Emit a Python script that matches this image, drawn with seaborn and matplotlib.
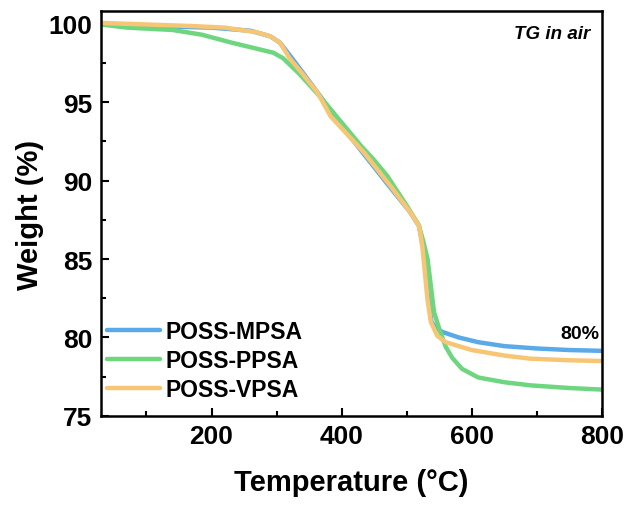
import pandas as pd
import matplotlib
matplotlib.use("Agg")
import matplotlib.pyplot as plt
import seaborn as sns
from matplotlib.ticker import MultipleLocator

# --- data ---
temp_mpsa = [30, 100, 200, 260, 290, 305, 320, 340, 365, 390, 430, 470, 505, 519,
             526, 532, 538, 545, 555, 580, 610, 650, 700, 750, 800]
wt_mpsa = [100.0, 99.85, 99.75, 99.55, 99.2, 98.8, 98.0, 96.9, 95.5, 94.0, 91.9, 89.8,
           88.0, 87.1, 85.5, 82.8, 81.0, 80.6, 80.35, 80.0, 79.7, 79.45, 79.3, 79.2, 79.15]

temp_ppsa = [30, 70, 140, 185, 230, 275, 295, 310, 335, 368, 400, 430, 450, 470, 500,
             518, 525, 532, 542, 552, 560, 570, 585, 610, 650, 690, 750, 800]
wt_ppsa = [99.95, 99.75, 99.6, 99.3, 98.8, 98.35, 98.15, 97.8, 96.8, 95.3, 93.7, 92.2,
           91.3, 90.3, 88.4, 87.2, 86.2, 85.0, 81.6, 80.3, 79.4, 78.7, 78.0, 77.45,
           77.15, 76.95, 76.78, 76.68]

temp_vpsa = [30, 100, 170, 220, 270, 290, 305, 320, 340, 363, 383, 434, 475, 506, 519,
             524, 532, 537, 547, 560, 600, 650, 690, 750, 800]
wt_vpsa = [100.05, 99.95, 99.85, 99.75, 99.45, 99.2, 98.8, 97.8, 96.8, 95.6, 94.1, 91.8,
           89.65, 87.95, 87.1, 85.8, 82.4, 81.0, 80.1, 79.7, 79.2, 78.85, 78.65, 78.55, 78.5]

samples = ["POSS-MPSA", "POSS-PPSA", "POSS-VPSA"]
colors = ["#5aaae8", "#6fd680", "#f7c674"]

df = pd.concat([
    pd.DataFrame({"T": temp_mpsa, "W": wt_mpsa, "Sample": samples[0]}),
    pd.DataFrame({"T": temp_ppsa, "W": wt_ppsa, "Sample": samples[1]}),
    pd.DataFrame({"T": temp_vpsa, "W": wt_vpsa, "Sample": samples[2]}),
], ignore_index=True)

sns.set_style("ticks")
plt.rcParams["font.family"] = ["Liberation Sans", "DejaVu Sans"]
plt.rcParams["font.weight"] = "bold"
for key in ["text.color", "axes.labelcolor", "axes.edgecolor", "xtick.color", "ytick.color"]:
    plt.rcParams[key] = "black"

fig = plt.figure(figsize=(6.27, 5.06), dpi=100)
ax = fig.add_axes([0.161, 0.176, 0.799, 0.800])

sns.lineplot(data=df, x="T", y="W", hue="Sample", hue_order=samples,
             palette=dict(zip(samples, colors)), estimator=None, sort=False,
             linewidth=3.2, ax=ax)

ax.set_xlim(30, 800)
ax.set_ylim(75, 100.8)
ax.xaxis.set_major_locator(MultipleLocator(200))
ax.xaxis.set_minor_locator(MultipleLocator(100))
ax.yaxis.set_major_locator(MultipleLocator(5))
ax.yaxis.set_minor_locator(MultipleLocator(2.5))
ax.tick_params(which="both", direction="in", width=1.5, labelsize=19, pad=6)
ax.tick_params(which="major", length=6)
ax.tick_params(which="minor", length=3.5)
for s in ax.spines.values():
    s.set_linewidth(1.8)
    s.set_visible(True)
for lab in ax.get_xticklabels() + ax.get_yticklabels():
    lab.set_fontweight("bold")

ax.set_xlabel("Temperature (°C)", fontsize=21, fontweight="bold", labelpad=14)
ax.set_ylabel("Weight (%)", fontsize=21, fontweight="bold", labelpad=3.5)

ax.legend(loc="lower left", bbox_to_anchor=(-0.018, 0.0), frameon=False,
          prop={"size": 16.5, "weight": "bold"}, handlelength=2.3,
          handletextpad=0.25, labelspacing=0.27, borderaxespad=0.25)

ax.text(0.976, 0.965, "TG in air", transform=ax.transAxes, ha="right", va="top",
        fontsize=13.5, fontweight="bold", fontstyle="italic")
ax.text(0.994, 0.2025, "80%", transform=ax.transAxes, ha="right", va="center",
        fontsize=14, fontweight="bold")

fig.savefig("out.png", dpi=100)
